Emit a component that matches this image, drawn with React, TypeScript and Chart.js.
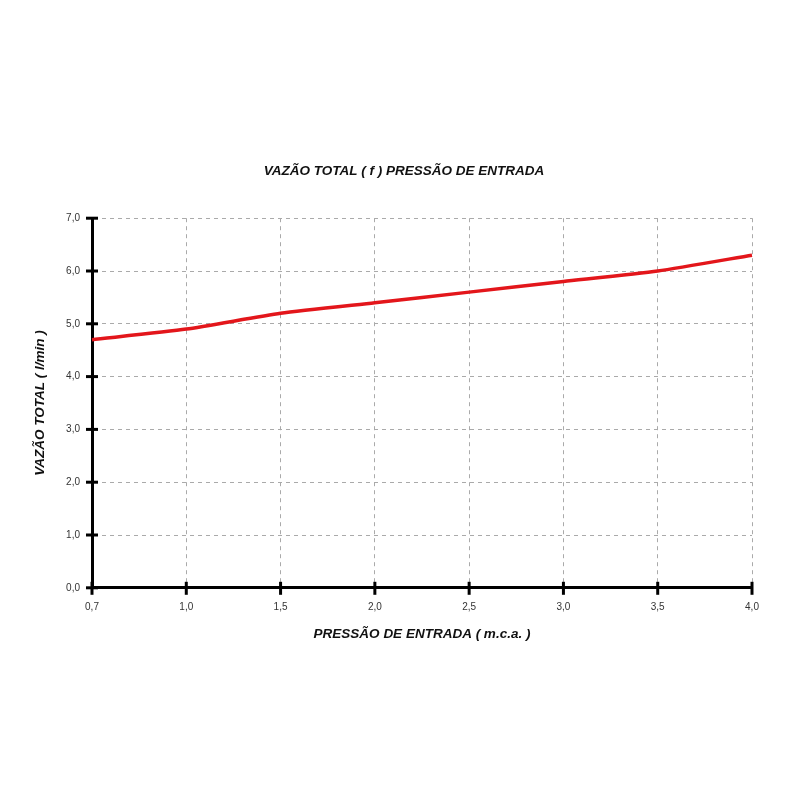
import React, { useEffect, useRef } from "react";
import { Chart, registerables } from "chart.js";

Chart.register(...registerables);

const categories = ["0,7", "1,0", "1,5", "2,0", "2,5", "3,0", "3,5", "4,0"];
const flowValues = [4.7, 4.9, 5.2, 5.4, 5.6, 5.8, 6.0, 6.3];
const chartTitle = "VAZÃO TOTAL ( f ) PRESSÃO DE ENTRADA";
const xTitle = "PRESSÃO DE ENTRADA ( m.c.a. )";
const yTitle = "VAZÃO TOTAL ( l/min )";

const FONT = "'Liberation Sans', Arial, sans-serif";
const TITLE_FONT = { family: FONT, size: 13.5, weight: "bold", style: "italic" };

const crossTicks = {
  id: "crossTicks",
  afterDraw(chart: any) {
    const ctx = chart.ctx;
    const x = chart.scales.x;
    const y = chart.scales.y;
    ctx.save();
    ctx.strokeStyle = "#000";
    ctx.lineWidth = 3;
    ctx.lineCap = "butt";
    const ax = chart.chartArea.left;
    const ay = chart.chartArea.bottom;
    y.ticks.forEach((_t: any, i: number) => {
      const py = y.getPixelForTick(i);
      ctx.beginPath();
      ctx.moveTo(ax - 6, py);
      ctx.lineTo(ax + 6, py);
      ctx.stroke();
    });
    x.ticks.forEach((_t: any, i: number) => {
      const px = x.getPixelForTick(i);
      ctx.beginPath();
      ctx.moveTo(px, ay - 6);
      ctx.lineTo(px, ay + 7);
      ctx.stroke();
    });
    ctx.restore();
  },
};

export default function App() {
  const ref = useRef<HTMLCanvasElement>(null);
  useEffect(() => {
    document.body.style.margin = "0";
    const chart = new Chart(ref.current as HTMLCanvasElement, {
      type: "line",
      data: {
        labels: categories,
        datasets: [
          {
            data: flowValues,
            borderColor: "#e3161b",
            borderWidth: 3.5,
            pointRadius: 0,
            tension: 0.2,
            fill: false,
          },
        ],
      },
      plugins: [crossTicks],
      options: {
        animation: false,
        responsive: false,
        maintainAspectRatio: false,
        layout: { padding: { left: 56, right: 48, top: 0, bottom: 158 } },
        plugins: {
          legend: { display: false },
          tooltip: { enabled: false },
          title: {
            display: true,
            text: chartTitle,
            color: "#111",
            font: TITLE_FONT,
            padding: { top: 163, bottom: 39 },
          },
        },
        scales: {
          x: {
            type: "category",
            offset: false,
            grid: {
              color: "#aaaaaa",
              lineWidth: 1,
              tickLength: 0,
              drawTicks: false,
            },
            border: { color: "#000", width: 3, dash: [4, 4] },
            ticks: {
              color: "#333",
              font: { family: FONT, size: 10 },
              padding: 13,
              maxRotation: 0,
              autoSkip: false,
            },
            title: {
              display: true,
              text: xTitle,
              color: "#111",
              font: TITLE_FONT,
              padding: { top: 0, bottom: 0 },
            },
          },
          y: {
            min: 0,
            max: 7,
            afterFit: (scale: any) => {
              scale.width = 36;
            },
            grid: {
              color: "#aaaaaa",
              lineWidth: 1,
              tickLength: 0,
              drawTicks: false,
            },
            border: { color: "#000", width: 3, dash: [4, 4] },
            ticks: {
              stepSize: 1,
              color: "#333",
              font: { family: FONT, size: 10 },
              padding: 12,
              callback: (v: any) => Number(v).toFixed(1).replace(".", ","),
            },
            title: {
              display: true,
              text: yTitle,
              color: "#111",
              font: TITLE_FONT,
              padding: { top: -24, bottom: 0 },
            },
          },
        },
      },
    } as any);
    return () => chart.destroy();
  }, []);
  return (
    <div style={{ width: 800, height: 800 }}>
      <canvas ref={ref} width={800} height={800} />
    </div>
  );
}
